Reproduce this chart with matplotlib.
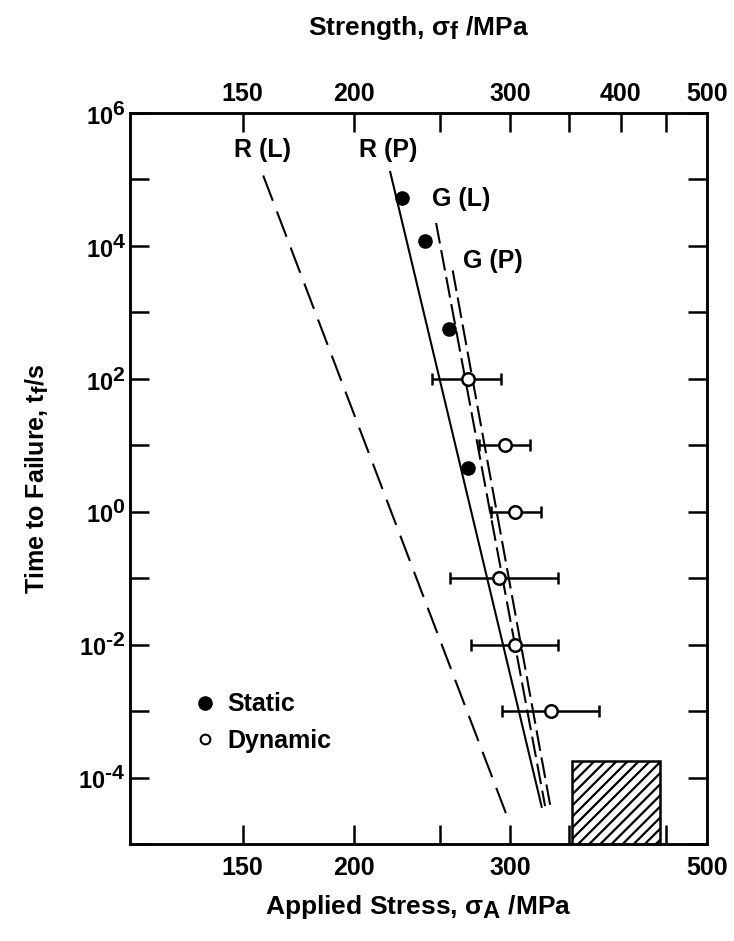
import matplotlib
matplotlib.use('Agg')
import matplotlib.pyplot as plt
import numpy as np
from matplotlib.ticker import FixedLocator, FuncFormatter, NullLocator, FixedFormatter
from matplotlib.lines import Line2D
from matplotlib.patches import Rectangle

plt.rcParams['font.family'] = ['Liberation Sans', 'DejaVu Sans']
plt.rcParams['font.weight'] = 'bold'
plt.rcParams['axes.labelweight'] = 'bold'
plt.rcParams['mathtext.fontset'] = 'custom'
plt.rcParams['mathtext.rm'] = 'Liberation Sans:bold'
plt.rcParams['mathtext.it'] = 'Liberation Sans:bold'
plt.rcParams['mathtext.bf'] = 'Liberation Sans:bold'
plt.rcParams['hatch.linewidth'] = 1.6
try:
    import matplotlib._mathtext as _mt
    _mt.SHRINK_FACTOR = 0.9
except Exception:
    pass

# ---------------- data ----------------
static_stress = [226.5, 240.7, 256.2, 269.2]
static_time = [5.2e4, 1.18e4, 5.6e2, 4.6]

dyn_stress = [269.2, 296.1, 304.0, 291.8, 304.0, 333.8]
dyn_low = [245.3, 277.1, 285.4, 256.8, 270.9, 293.6]
dyn_high = [292.9, 315.9, 324.9, 339.5, 339.5, 378.0]
dyn_time = [1e2, 1e1, 1e0, 1e-1, 1e-2, 1e-3]

# predicted lifetime lines (end points)
rl_stress = [158.2, 296.9]
rl_time = [10 ** 5.06, 10 ** -4.54]
rp_stress = [219.9, 325.7]
rp_time = [10 ** 5.114, 10 ** -4.44]
gl_stress = [247.7, 328.6]
gl_time = [10 ** 4.345, 10 ** -4.43]
gp_stress = [258.6, 332.9]
gp_time = [10 ** 3.631, 10 ** -4.41]

# hatched region
hatch_stress = [352.0, 443.0]
hatch_time = [1e-5, 1.8e-4]

x_ticks = [150, 200, 250, 300, 350, 400, 450]
bottom_labels = [150, 200, 300]
top_labels = [150, 200, 300, 400]
edge_label = [500]
y_ticks = [10.0 ** e for e in range(-5, 7)]

# check whether mathtext \text{} works (for a short hyphen in exponents)
_use_text = True
try:
    _tf = plt.figure()
    _tf.text(0, 0, r'$10^{\text{-}2}$')
    _tf.canvas.draw()
    plt.close(_tf)
except Exception:
    _use_text = False
    plt.close('all')

# ---------------- figure ----------------
fig = plt.figure(figsize=(7.34, 9.41), dpi=100)
ax = fig.add_axes([0.1771, 0.1031, 0.7861, 0.7768])
ax.set_xscale('log')
ax.set_yscale('log')
ax.set_xlim(112, 500)
ax.set_ylim(1e-5, 1e6)

lw = 1.5
ax.plot(rl_stress, rl_time, color='black', lw=lw, dashes=(13, 5.5), zorder=2)
ax.plot(rp_stress, rp_time, color='black', lw=lw, zorder=2)
ax.plot(gl_stress, gl_time, color='black', lw=lw, dashes=(10, 3.2), zorder=2)
ax.plot(gp_stress, gp_time, color='black', lw=lw, dashes=(10, 3.2), zorder=2)

ax.errorbar(dyn_stress, dyn_time,
            xerr=[np.subtract(dyn_stress, dyn_low), np.subtract(dyn_high, dyn_stress)],
            fmt='o', mfc='white', mec='black', mew=1.8, ms=9, ecolor='black',
            elinewidth=1.8, capsize=4, capthick=1.8, zorder=4)
ax.plot(static_stress, static_time, 'o', color='black', ms=9.5, zorder=4)

ax.add_patch(Rectangle((hatch_stress[0], hatch_time[0]),
                       hatch_stress[1] - hatch_stress[0], hatch_time[1] - hatch_time[0],
                       facecolor='white', edgecolor='black', hatch='///', lw=1.8, zorder=3))

# line labels
lab_fs = 18
ax.text(157.9, 10 ** 5.442, 'R (L)', ha='center', va='center', fontsize=lab_fs)
ax.text(218.6, 10 ** 5.442, 'R (P)', ha='center', va='center', fontsize=lab_fs)
ax.text(264.2, 10 ** 4.702, 'G (L)', ha='center', va='center', fontsize=lab_fs)
ax.text(287.1, 10 ** 3.771, 'G (P)', ha='center', va='center', fontsize=lab_fs)

# ticks
fs = 18
ax.xaxis.set_major_locator(FixedLocator(x_ticks))
ax.xaxis.set_major_formatter(FuncFormatter(lambda v, p: f'{v:g}' if round(v) in bottom_labels else ''))
ax.xaxis.set_minor_locator(FixedLocator(edge_label))
ax.xaxis.set_minor_formatter(FixedFormatter([str(v) for v in edge_label]))
ax.yaxis.set_major_locator(FixedLocator(y_ticks))
ax.yaxis.set_minor_locator(NullLocator())

def yfmt(v, p):
    e = int(round(np.log10(v)))
    if e % 2:
        return ''
    if e < 0 and _use_text:
        return r'$10^{\text{-}%d}$' % (-e)
    return f'$10^{{{e}}}$'

ax.yaxis.set_major_formatter(FuncFormatter(yfmt))
ax.tick_params(axis='both', which='major', direction='in', length=14, width=1.8, labelsize=fs)
ax.tick_params(axis='y', which='major', left=True, right=True, pad=3, labelsize=17)
ax.tick_params(axis='x', which='major', top=False, pad=9)
ax.tick_params(axis='x', which='minor', length=0, labelsize=fs, pad=9)
for s in ax.spines.values():
    s.set_linewidth(1.8)

ax2 = ax.twiny()
ax2.set_xscale('log')
ax2.set_xlim(ax.get_xlim())
ax2.xaxis.set_major_locator(FixedLocator(x_ticks))
ax2.xaxis.set_major_formatter(FuncFormatter(lambda v, p: f'{v:g}' if round(v) in top_labels else ''))
ax2.xaxis.set_minor_locator(FixedLocator(edge_label))
ax2.xaxis.set_minor_formatter(FixedFormatter([str(v) for v in edge_label]))
ax2.tick_params(axis='x', which='major', direction='in', length=14, width=1.8, labelsize=fs, pad=5)
ax2.tick_params(axis='x', which='minor', length=0, labelsize=fs, pad=5)
for s in ax2.spines.values():
    s.set_linewidth(1.8)

ax2.set_xlabel('Strength, σ$_f$ /MPa', fontsize=19, fontweight='bold', labelpad=34)
ax.set_xlabel('Applied Stress, σ$_A$ /MPa', fontsize=19, fontweight='bold', labelpad=9)
ax.set_ylabel('Time to Failure, t$_f$/s', fontsize=18, fontweight='bold', labelpad=20)

handles = [Line2D([], [], marker='o', ls='none', color='black', ms=9.5, label='Static'),
           Line2D([], [], marker='o', ls='none', mfc='white', mec='black', mew=1.5, ms=7, label='Dynamic')]
ax.legend(handles=handles, loc='center left', bbox_to_anchor=(0.117, 0.166), frameon=False,
          fontsize=18, handlelength=0.6, handletextpad=0.6, labelspacing=0.5,
          borderpad=0, borderaxespad=0)

fig.savefig('out.png', dpi=100)
